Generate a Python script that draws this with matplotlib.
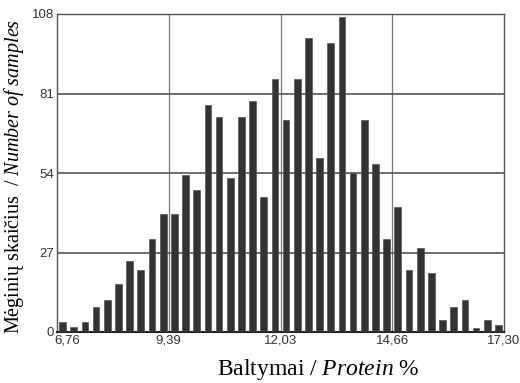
import numpy as np
import matplotlib
matplotlib.use("Agg")
import matplotlib.pyplot as plt
import matplotlib.transforms as mtransforms

plt.rcParams["mathtext.fontset"] = "custom"
plt.rcParams["mathtext.rm"] = "Liberation Serif"
plt.rcParams["mathtext.it"] = "Liberation Serif:italic"

X_MIN = 6.76
X_MAX = 17.30
TICK_LABELS = ["6,76", "9,39", "12,03", "14,66", "17,30"]
Y_TICKS = [0, 27, 54, 81, 108]

# number of samples in each of the 40 protein classes
counts = [3.3, 1.6, 3.3, 8.5, 11, 16.4, 24, 21, 31.6, 40,
          40, 53.2, 48.3, 77, 73, 52.4, 73, 78.3, 46, 86,
          72, 86, 100, 59, 98.3, 107, 54, 72, 57, 31.6,
          42.3, 21, 28.4, 20, 4, 8.4, 10.7, 1.5, 4, 2.5]


def main():
    fig = plt.figure(figsize=(5.2, 3.83), dpi=100)
    ax = fig.add_axes([57 / 520, 1 - 332 / 383, 447 / 520, 318 / 383])

    n = len(counts)
    step = (X_MAX - X_MIN) / n
    centers = X_MIN + step * (np.arange(n) + 0.5)
    ax.bar(centers, counts, width=step * 0.6, color="#333333",
           edgecolor="#555555", linewidth=0.5, zorder=3)

    ticks = np.linspace(X_MIN, X_MAX, 5)
    ax.set_xlim(X_MIN, X_MAX)
    ax.set_ylim(0, 108)
    ax.set_xticks(ticks)
    ax.set_xticklabels(TICK_LABELS, family="Liberation Sans", fontsize=9.5, color="#333333")
    ax.set_yticks(Y_TICKS)
    ax.set_yticklabels([str(v) for v in Y_TICKS], family="Liberation Sans", fontsize=9.5, color="#333333")
    ax.tick_params(length=0, pad=2)

    # first x label sits to the right of the "0"
    first = ax.get_xticklabels()[0]
    first.set_ha("left")
    first.set_transform(first.get_transform() +
                        mtransforms.ScaledTranslation(-3 / 100, 0, fig.dpi_scale_trans))

    for t in ticks[1:-1]:
        ax.axvline(t, color="#777777", linewidth=0.9, zorder=1)
    for v in Y_TICKS[1:-1]:
        ax.axhline(v, color="#555555", linewidth=1.2, zorder=1)

    for side in ["left", "right", "top"]:
        ax.spines[side].set_color("#555555")
        ax.spines[side].set_linewidth(1.0)
    ax.spines["bottom"].set_color("#222222")
    ax.spines["bottom"].set_linewidth(1.5)

    fig.text(14 / 520, 1 - 176 / 383, "Mėginių skaičius  / $\\mathit{Number\\ of\\ samples}$",
             rotation=90, ha="center", va="center", family="Liberation Serif", fontsize=14.5)
    fig.text(318 / 520, 1 - 370 / 383, "Baltymai / $\\mathit{Protein}$ %",
             ha="center", va="center", family="Liberation Serif", fontsize=17)

    fig.savefig("out.png", dpi=100)


if __name__ == "__main__":
    main()
